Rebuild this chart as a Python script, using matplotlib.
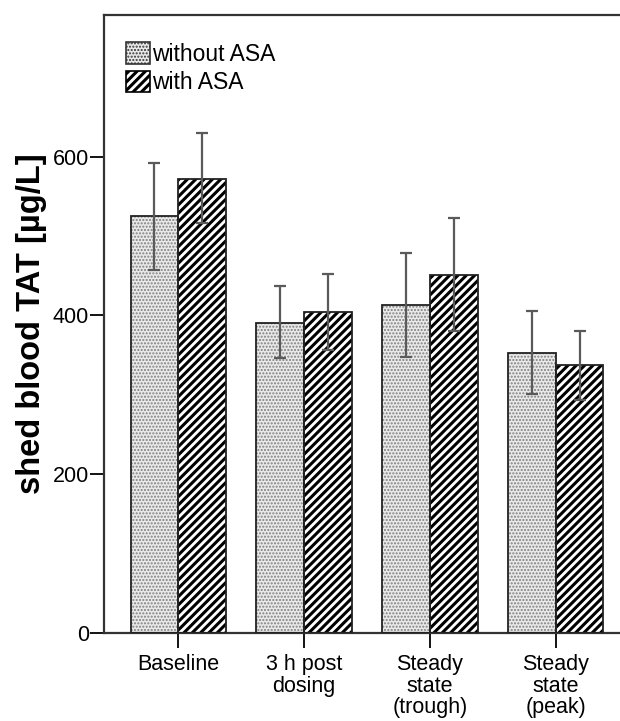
import matplotlib
matplotlib.use("Agg")
import matplotlib.pyplot as plt
import numpy as np
from matplotlib.patches import Patch

categories = ["Baseline", "3 h post\ndosing", "Steady\nstate\n(trough)", "Steady\nstate\n(peak)"]
series_names = ["without ASA", "with ASA"]
without_mean = [525, 391, 413, 353]
without_low = [457, 346, 347, 301]
without_high = [592, 437, 479, 405]
with_mean = [572, 404, 451, 338]
with_low = [516, 357, 380, 294]
with_high = [629, 452, 522, 380]
yticks = [0, 200, 400, 600]

plt.rcParams['font.family'] = ['Liberation Sans', 'DejaVu Sans']

fig = plt.figure(figsize=(6.2, 7.21), dpi=100)
ax = fig.add_axes([0.168, 0.122, 0.85, 0.857])

x = np.arange(len(categories))
w = 0.38

wm = np.array(without_mean); am = np.array(with_mean)
DOT_FACE = '#e9e9e9'
DOT_COLOR = '#808080'
# without ASA: dotted
with plt.rc_context({'hatch.linewidth': 1.0}):
    ax.bar(x - w/2, wm, w, facecolor=DOT_FACE, edgecolor=DOT_COLOR, hatch='.....', linewidth=0, zorder=2)
ax.bar(x - w/2, wm, w, facecolor='none', edgecolor='#222222', linewidth=1.3, zorder=3)
# with ASA: diagonal
with plt.rc_context({'hatch.linewidth': 2.2}):
    ax.bar(x + w/2, am, w, facecolor='white', edgecolor='black', hatch='////', linewidth=0, zorder=2)
ax.bar(x + w/2, am, w, facecolor='none', edgecolor='#222222', linewidth=1.3, zorder=3)

ax.errorbar(x - w/2, wm, yerr=[wm - np.array(without_low), np.array(without_high) - wm],
            fmt='none', ecolor='#5a5a5a', elinewidth=1.6, capsize=4.5, capthick=1.6, zorder=4)
ax.errorbar(x + w/2, am, yerr=[am - np.array(with_low), np.array(with_high) - am],
            fmt='none', ecolor='#5a5a5a', elinewidth=1.6, capsize=4.5, capthick=1.6, zorder=4)

with plt.rc_context({'hatch.linewidth': 1.0}):
    h1 = Patch(facecolor=DOT_FACE, edgecolor='#333333', hatch='.....', linewidth=1.2)
with plt.rc_context({'hatch.linewidth': 2.2}):
    h2 = Patch(facecolor='white', edgecolor='black', hatch='////', linewidth=1.2)
leg = ax.legend([h1, h2], series_names, loc='upper left', bbox_to_anchor=(0.015, 0.978),
                frameon=False, fontsize=16.5, handlelength=1.05, handleheight=1.05,
                handletextpad=0.08, labelspacing=0.2, borderaxespad=0.2)
lp = leg.get_patches()
if hasattr(lp[1], 'set_hatch_linewidth'):
    lp[0].set_hatch_linewidth(1.0)
    lp[1].set_hatch_linewidth(2.2)

ax.set_xlim(-0.59, 3.6)
ax.set_ylim(0, 778)
ax.set_yticks(yticks)
ax.set_xticks(x)
ax.set_xticklabels(categories, fontsize=15.5, linespacing=1.05)
ax.tick_params(axis='y', labelsize=15.5, length=10, width=1.3, direction='out', pad=1)
ax.tick_params(axis='x', length=11, width=1.3, direction='out', pad=4)
for s in ['left', 'bottom', 'top']:
    ax.spines[s].set_linewidth(1.6)
    ax.spines[s].set_color('#333333')
ax.spines['right'].set_visible(False)
ax.set_ylabel("shed blood TAT [µg/L]", fontsize=23.5, fontweight='bold', labelpad=4)

fig.savefig("out.png", dpi=100)
